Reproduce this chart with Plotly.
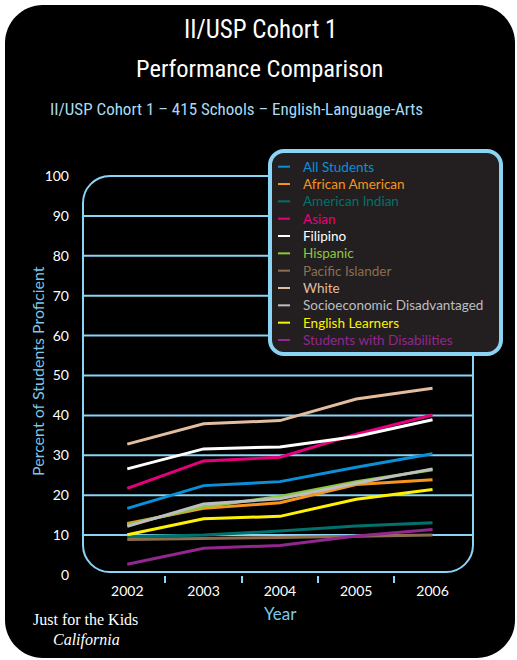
import plotly.graph_objects as go

# ---- data -------------------------------------------------------------
years = [2002, 2003, 2004, 2005, 2006]

groups = [
    "All Students", "African American", "American Indian", "Asian", "Filipino",
    "Hispanic", "Pacific Islander", "White", "Socioeconomic Disadvantaged",
    "English Learners", "Students with Disabilities",
]

all_students = [16.7, 22.4, 23.4, 27.0, 30.4]
african_american = [12.9, 16.7, 18.1, 22.7, 23.9]
american_indian = [9.6, 10.0, 11.0, 12.3, 13.1]
asian = [21.7, 28.6, 29.5, 35.3, 40.1]
filipino = [26.6, 31.6, 32.1, 34.7, 38.9]
hispanic = [12.6, 17.1, 19.7, 23.4, 26.4]
pacific_islander = [8.9, 9.1, 9.4, 9.7, 10.0]
white = [32.8, 37.9, 38.7, 44.1, 46.8]
socio_disadv = [12.2, 17.8, 19.1, 23.0, 26.6]
english_learners = [10.1, 14.1, 14.7, 19.0, 21.4]
disabilities = [2.7, 6.7, 7.4, 9.8, 11.4]

series = [all_students, african_american, american_indian, asian, filipino,
          hispanic, pacific_islander, white, socio_disadv, english_learners,
          disabilities]

colors = ["#0a90d8", "#f7941d", "#00716c", "#e6007e", "#ffffff", "#8dc63f",
          "#8c6e4f", "#e2bd9f", "#bcbec0", "#fff200", "#92278f"]

y_ticks = list(range(0, 101, 10))
grid_vals = list(range(10, 100, 10))

# ---- geometry helpers (pixel -> paper) -------------------------------
W, H = 517, 660
LIGHT_BLUE = "#8ad4f5"
TITLE_FONT = "Roboto Condensed, Liberation Sans Narrow, Roboto, sans-serif"


def fx(x):
    return x / W


def fy(y):
    return 1 - y / H


def rounded_rect(x0, y0, x1, y1, r):
    k = 0.5523 * r
    pts = [
        ("M", [(x0 + r, y0)]),
        ("L", [(x1 - r, y0)]),
        ("C", [(x1 - r + k, y0), (x1, y0 + r - k), (x1, y0 + r)]),
        ("L", [(x1, y1 - r)]),
        ("C", [(x1, y1 - r + k), (x1 - r + k, y1), (x1 - r, y1)]),
        ("L", [(x0 + r, y1)]),
        ("C", [(x0 + r - k, y1), (x0, y1 - r + k), (x0, y1 - r)]),
        ("L", [(x0, y0 + r)]),
        ("C", [(x0, y0 + r - k), (x0 + r - k, y0), (x0 + r, y0)]),
    ]
    s = ""
    for cmd, ps in pts:
        s += cmd + " ".join(f"{fx(px):.5f},{fy(py):.5f}" for px, py in ps) + " "
    return s + "Z"


fig = go.Figure()

for name, vals, col in zip(groups, series, colors):
    fig.add_trace(go.Scatter(
        x=years, y=vals, mode="lines", name=name,
        line=dict(color=col, width=3), showlegend=False,
    ))

shapes = [
    # black card
    dict(type="path", xref="paper", yref="paper", layer="below",
         path=rounded_rect(5, 5, 515, 658, 38),
         fillcolor="black", line=dict(width=0)),
]
for v in grid_vals:
    shapes.append(dict(type="line", xref="paper", yref="y", layer="below",
                       x0=fx(83), x1=fx(473), y0=v, y1=v,
                       line=dict(color=LIGHT_BLUE, width=2)))
# plot frame
shapes.append(dict(type="path", xref="paper", yref="paper", layer="below",
                   path=rounded_rect(83, 176, 473, 572, 27),
                   line=dict(color=LIGHT_BLUE, width=2)))
# legend box
shapes.append(dict(type="path", xref="paper", yref="paper", layer="above",
                   path=rounded_rect(270, 151, 501, 354, 14),
                   fillcolor="#231f20", line=dict(color=LIGHT_BLUE, width=4)))

annotations = [
    dict(text="II/USP Cohort 1", x=fx(260), y=fy(30), xref="paper", yref="paper",
         showarrow=False, xanchor="center", yanchor="middle",
         font=dict(family=TITLE_FONT, size=25, color="white")),
    dict(text="Performance Comparison", x=fx(259), y=fy(69), xref="paper", yref="paper",
         showarrow=False, xanchor="center", yanchor="middle",
         font=dict(family=TITLE_FONT, size=24.5, color="white")),
    dict(text="II/USP Cohort 1 – 415 Schools – English-Language-Arts",
         x=fx(48), y=fy(109), xref="paper", yref="paper",
         showarrow=False, xanchor="left", yanchor="middle",
         font=dict(family=TITLE_FONT, size=17, color="#a9dcf4")),
    dict(text="Percent of Students Proficient", x=fx(37), y=fy(371),
         xref="paper", yref="paper", showarrow=False, textangle=-90,
         xanchor="center", yanchor="middle",
         font=dict(family="Lato, sans-serif", size=16, color="#7cc8ea")),
    dict(text="Year", x=fx(280), y=fy(613), xref="paper", yref="paper",
         showarrow=False, xanchor="center", yanchor="middle",
         font=dict(family="Lato, sans-serif", size=17, color="#7cc8ea")),
    dict(text="Just for the Kids", x=fx(85), y=fy(619), xref="paper", yref="paper",
         showarrow=False, xanchor="center", yanchor="middle",
         font=dict(family="Liberation Serif, DejaVu Serif, serif", size=16, color="white")),
    dict(text="<i>California</i>", x=fx(86), y=fy(640), xref="paper", yref="paper",
         showarrow=False, xanchor="center", yanchor="middle",
         font=dict(family="Liberation Serif, DejaVu Serif, serif", size=16, color="white")),
]

# hand-built legend inside the rounded box
row0, row_step = 166.7, 17.33
for i, (name, col) in enumerate(zip(groups, colors)):
    yy = row0 + i * row_step
    shapes.append(dict(type="line", xref="paper", yref="paper", layer="above",
                       x0=fx(278), x1=fx(290), y0=fy(yy), y1=fy(yy),
                       line=dict(color=col, width=2)))
    annotations.append(dict(text=name, x=fx(301), y=fy(yy), xref="paper", yref="paper",
                            showarrow=False, xanchor="left", yanchor="middle",
                            font=dict(family="Lato, sans-serif", size=13.5, color=col)))

fig.update_layout(
    width=W, height=H,
    margin=dict(l=0, r=0, t=0, b=0),
    paper_bgcolor="white",
    plot_bgcolor="rgba(0,0,0,0)",
    showlegend=False,
    shapes=shapes,
    annotations=annotations,
    xaxis=dict(
        domain=[fx(83), fx(473)], range=[2001.42, 2006.53],
        tickmode="array", tickvals=years, ticktext=[str(y) for y in years],
        ticks="", showgrid=False, zeroline=False, showline=False,
        automargin=False, ticklabelstandoff=6,
        tickfont=dict(family="Lato, sans-serif", size=14, color="white"),
        minor=dict(tickmode="array", tickvals=[2002.5, 2003.5, 2004.5, 2005.5],
                   ticks="outside", ticklen=7, tickwidth=2, tickcolor=LIGHT_BLUE,
                   showgrid=False),
    ),
    yaxis=dict(
        domain=[fy(575), fy(176)], range=[0, 100],
        tickmode="array", tickvals=y_ticks, ticktext=[str(v) for v in y_ticks],
        ticks="", showgrid=False, zeroline=False, showline=False,
        automargin=False, ticklabelstandoff=13,
        tickfont=dict(family="Lato, sans-serif", size=14, color="white"),
    ),
)

fig.write_html("out.html")
